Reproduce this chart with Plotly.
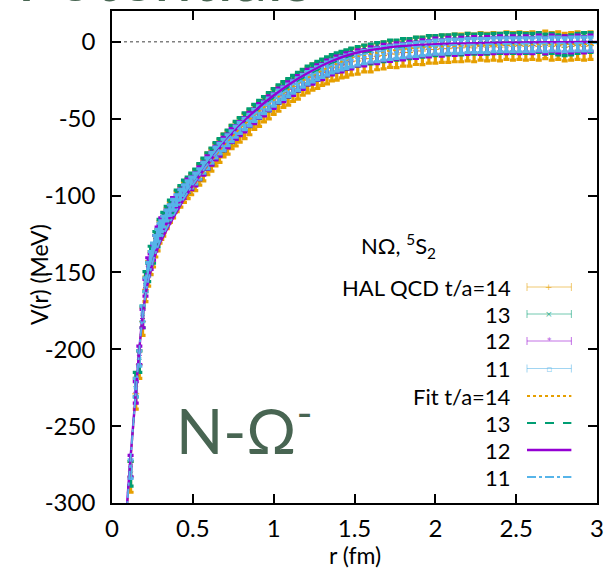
import plotly.graph_objects as go

# ---------------- data ----------------
r_data = [0.115, 0.147, 0.169, 0.189, 0.207, 0.224, 0.239, 0.254, 0.268, 0.282,
          0.294, 0.305, 0.317, 0.338, 0.358, 0.378, 0.400, 0.423, 0.445, 0.468, 0.490,
          0.515, 0.540, 0.565, 0.590, 0.615, 0.640, 0.665, 0.690, 0.715, 0.740, 0.765, 0.790,
          0.82, 0.85, 0.88, 0.91, 0.94, 0.97, 1.00, 1.03, 1.06, 1.09,
          1.12, 1.15, 1.18, 1.21, 1.24, 1.27, 1.30, 1.33, 1.36, 1.39,
          1.42, 1.45, 1.48,
          1.52, 1.56, 1.60, 1.64, 1.68, 1.72, 1.76, 1.80, 1.84, 1.88,
          1.92, 1.96, 2.00, 2.04, 2.08, 2.12, 2.16, 2.20, 2.24, 2.28,
          2.32, 2.36, 2.40, 2.44, 2.48, 2.52, 2.56, 2.60, 2.64, 2.68,
          2.72, 2.76, 2.80, 2.84, 2.88, 2.92, 2.96]

V_t11 = [-278, -225, -206, -177, -158, -148, -141, -135, -130, -126,
         -122, -120, -117, -113, -109.5, -106, -103, -99.5, -96.5, -94, -91.5,
         -89, -86, -82, -79, -75.5, -72, -69.5, -67, -64, -61.5, -58.5, -56,
         -53.5, -51, -48, -45.5, -43, -40.5, -38, -35.5, -33.5, -31.5,
         -29.5, -27.5, -25.5, -23.5, -22, -20.5, -19, -17.5, -16, -15,
         -14, -13, -12,
         -11, -10, -9, -8.5, -7.5, -7, -6.5, -6, -5.5, -5,
         -4.5, -4, -3.5, -3.5, -3, -3, -3, -2.5, -2.5, -2.5,
         -2.5, -2, -2, -2, -2, -2, -2, -2, -1.5, -2,
         -1.5, -1.5, -2, -1.5, -1.5, -1.5, -1.5]
E_t11 = [6, 6, 5, 5, 4.5, 4.5, 4.5, 4, 4, 4,
         4, 3.5, 3.5, 3.5, 3.5, 3.5, 3.5, 3.5, 3.5, 3.5, 3.5,
         3.5, 3.4, 3.5, 3.5, 3.4, 3.5, 3.5, 3.6, 3.5, 3.5, 3.6, 3.6,
         3.7, 3.7, 3.8, 3.8, 3.8, 3.9, 3.9, 4.0, 4.0, 4.0,
         4.0, 4.1, 4.1, 4.1, 4.1, 4.2, 4.2, 4.2, 4.2, 4.2,
         4.3, 4.3, 4.3,
         4.3, 4.3, 4.3, 4.4, 4.4, 4.4, 4.4, 4.4, 4.4, 4.5,
         4.5, 4.5, 4.5, 4.5, 4.5, 4.5, 4.5, 4.5, 4.5, 4.5,
         4.5, 4.5, 4.5, 4.5, 4.5, 4.5, 4.5, 4.5, 4.5, 4.5,
         4.5, 4.5, 4.5, 4.5, 4.5, 4.5, 4.5]

V_t12 = [-276, -228, -204, -180, -160, -146, -143, -137, -131, -125,
         -124, -119, -118, -114, -110.5, -105.5, -104, -100, -97.5, -93.5, -92,
         -89.5, -85.5, -82.5, -78.5, -76, -72.5, -70, -66.5, -64.5, -61, -59, -56.5,
         -54, -50.5, -48.5, -45, -43.5, -40, -38.5, -35, -34, -31,
         -30, -27, -26, -23, -22.5, -20, -19.5, -17, -16.5, -14.5,
         -14.5, -12.5, -12.5,
         -10.5, -10.5, -8.5, -9, -7, -7.5, -6, -6.5, -5, -5.5,
         -4, -4.5, -3, -4, -2.5, -3.5, -2.5, -3, -2, -3,
         -2, -2.5, -1.5, -2.5, -1.5, -2.5, -1.5, -2.5, -1, -2.5,
         -1, -2, -1.5, -2, -1, -2, -1]
E_t12 = [7, 7, 6, 6, 5.5, 5.5, 5, 5, 5, 4.5,
         4.5, 4.5, 4.5, 4.5, 4.2, 4.2, 4.2, 4.2, 4.2, 4.2, 4.2,
         4.2, 4.2, 4.3, 4.3, 4.3, 4.4, 4.4, 4.4, 4.5, 4.5, 4.5, 4.5,
         4.6, 4.6, 4.7, 4.7, 4.7, 4.8, 4.8, 4.8, 4.9, 4.9,
         4.9, 5.0, 5.0, 5.0, 5.0, 5.0, 5.1, 5.1, 5.1, 5.1,
         5.1, 5.2, 5.2,
         5.2, 5.2, 5.2, 5.3, 5.3, 5.3, 5.3, 5.3, 5.3, 5.3,
         5.3, 5.3, 5.3, 5.3, 5.3, 5.3, 5.3, 5.3, 5.3, 5.3,
         5.3, 5.3, 5.3, 5.3, 5.3, 5.3, 5.3, 5.3, 5.3, 5.3,
         5.3, 5.3, 5.3, 5.3, 5.3, 5.3, 5.3]

V_t13 = [-281, -223, -208, -179, -156, -150, -139, -138, -129, -128,
         -121, -121, -116, -112, -108, -107, -101.5, -98.5, -95, -93, -90.5,
         -88, -84.5, -81, -77.5, -74.5, -71, -68.5, -65.5, -63, -60, -57.5, -55,
         -52, -49.5, -46.5, -44, -41.5, -39, -36.5, -34, -32, -30,
         -28, -26, -24, -22, -20.5, -19, -17.5, -16, -14.5, -13.5,
         -12.5, -11.5, -10.5,
         -9.5, -8.5, -8, -7, -6.5, -5.5, -5.5, -4.5, -4.5, -3.5,
         -3.5, -2.5, -2.5, -2, -2, -1.5, -2, -1, -1.5, -1,
         -1.5, -1, -1, -0.5, -1, -0.5, -1, -1, -0.5, -1.5,
         -1, -2, -2.5, -2, -1, -0.5, -0.5]
E_t13 = [8, 8, 7, 7, 6.5, 6, 6, 6, 5.5, 5.5,
         5.5, 5, 5, 5, 5, 5, 5, 5, 5, 5, 5,
         5.2, 5.2, 5.3, 5.3, 5.4, 5.4, 5.5, 5.5, 5.6, 5.6, 5.7, 5.7,
         5.8, 5.8, 5.8, 5.9, 5.9, 5.9, 6.0, 6.0, 6.0, 6.0,
         6.1, 6.1, 6.1, 6.1, 6.2, 6.2, 6.2, 6.2, 6.2, 6.3,
         6.3, 6.3, 6.3,
         6.4, 6.4, 6.4, 6.4, 6.5, 6.5, 6.5, 6.5, 6.5, 6.5,
         6.5, 6.5, 6.5, 6.5, 6.5, 6.5, 6.5, 6.5, 6.5, 6.5,
         6.5, 6.5, 6.5, 6.5, 6.5, 6.5, 6.5, 6.5, 6.5, 6.5,
         6.5, 6.5, 6.5, 6.5, 6.5, 6.5, 6.5]

V_t14 = [-283, -229, -210, -182, -161, -151, -144, -139, -133, -129,
         -124, -122, -120, -115, -111, -108, -104, -101, -98, -95.5, -93,
         -90, -86.5, -83.5, -79.5, -77, -73.5, -71, -67.5, -65.5, -62, -60, -57.5,
         -55, -52.5, -49, -47, -44, -42, -39, -37, -34.5, -33,
         -30.5, -29, -26.5, -25, -23, -22, -20, -19, -17, -16.5,
         -15, -14.5, -13,
         -12.5, -11, -11, -9.5, -9, -8, -8, -7, -7, -6,
         -6, -5, -5, -4.5, -4.5, -4, -4, -3.5, -4, -3,
         -3.5, -3, -3.5, -2.5, -3, -2.5, -3, -2.5, -3, -2,
         -3, -2.5, -3.5, -3, -2.5, -3, -2.5]
E_t14 = [10, 10, 9, 9, 8, 8, 7.5, 7.5, 7, 7,
         7, 6.5, 6.5, 6.5, 6.5, 6.5, 6.5, 6.5, 6.5, 6.5, 6.5,
         6.8, 6.8, 7.0, 7.0, 7.2, 7.2, 7.4, 7.4, 7.6, 7.6, 7.8, 7.8,
         8.0, 8.0, 8.0, 8.1, 8.1, 8.1, 8.2, 8.2, 8.2, 8.2,
         8.3, 8.3, 8.3, 8.3, 8.4, 8.4, 8.4, 8.4, 8.4, 8.5,
         8.5, 8.5, 8.5,
         8.6, 8.6, 8.6, 8.7, 8.7, 8.7, 8.8, 8.8, 8.8, 8.8,
         8.9, 8.9, 8.9, 8.9, 8.9, 9.0, 9.0, 9.0, 9.0, 9.0,
         9.0, 9.0, 9.0, 9.0, 9.0, 9.0, 9.0, 9.0, 9.0, 9.0,
         9.0, 9.0, 9.0, 9.0, 9.0, 9.0, 9.0]

# fit curves
r_fit = [0.085, 0.095, 0.105, 0.115, 0.125, 0.135, 0.145, 0.155, 0.165, 0.175,
         0.19, 0.21, 0.23, 0.26, 0.30, 0.35, 0.40, 0.45, 0.50, 0.60,
         0.70, 0.80, 0.90, 1.00, 1.10, 1.20, 1.35, 1.50, 1.70, 1.90,
         2.10, 2.40, 2.70, 3.00]
fit_t12 = [-318, -298, -284, -270, -257, -244, -231, -218, -205, -193,
           -178, -163, -153, -141, -130, -120, -110.5, -101.5, -93.5, -78.5,
           -65, -53.5, -43.5, -35, -27.5, -21, -13, -7.5, -3.8, -2.0,
           -1.2, -0.6, -0.3, -0.2]
fit_t11 = [-320, -300, -285, -271, -257.5, -244.5, -231, -218, -205.5, -193,
           -178, -163, -152.5, -140.5, -129, -119, -109.5, -101, -93, -78.5,
           -65.5, -54.5, -45.5, -37.5, -30, -23.5, -15.5, -9.5, -5.5, -3.2,
           -2.2, -1.5, -1.1, -0.9]
fit_t13 = [-317, -297, -283, -269.5, -256.5, -243.5, -230.5, -217.5, -204.5, -192.5,
           -177.5, -162.5, -152.5, -140.5, -129.5, -119.5, -110, -101, -93, -78,
           -65, -54, -44.5, -36.5, -29, -22.5, -14.5, -8.5, -4.5, -2.5,
           -1.5, -0.9, -0.5, -0.3]
fit_t14 = [-322, -301, -286, -272, -258.5, -245.5, -232, -219, -206, -194,
           -179, -164, -154, -142, -131, -121, -111.5, -102.5, -94.5, -79.5,
           -66.5, -55.5, -46, -38, -30.5, -24, -16, -10, -6, -3.8,
           -2.8, -2, -1.6, -1.4]

zero_r = [0, 3]
zero_v = [0, 0]

x_ticks = [0, 0.5, 1, 1.5, 2, 2.5, 3]
x_labels = ["0", "0.5", "1", "1.5", "2", "2.5", "3"]
y_ticks = [-300, -250, -200, -150, -100, -50, 0]
y_labels = ["-300", "-250", "-200", "-150", "-100", "-50", "0"]

data_labels = ["HAL QCD t/a=14", "13", "12", "11"]
fit_labels = ["Fit t/a=14", "13", "12", "11"]

# ---------------- styles ----------------
C_ORANGE = "#e69f00"
C_GREEN = "#009e73"
C_PURPLE = "#9400d3"
C_BLUE = "#56b4e9"
TXT_GREEN = "#486552"
FONT = "Lato"

fig = go.Figure()

fig.add_trace(go.Scatter(x=zero_r, y=zero_v, mode="lines",
                         line=dict(color="#808080", width=1.3, dash="dot"),
                         hoverinfo="skip"))

series = [
    (V_t14, E_t14, C_ORANGE, "cross-thin", 5),
    (V_t13, E_t13, C_GREEN, "x-thin", 4),
    (V_t12, E_t12, C_PURPLE, "asterisk", 4),
    (V_t11, E_t11, C_BLUE, "square-open", 3),
]
for v, e, c, sym, sz in series:
    fig.add_trace(go.Scatter(
        x=r_data, y=v, mode="markers",
        marker=dict(symbol=sym, size=sz, color=c, line=dict(color=c, width=1)),
        error_y=dict(type="data", array=e, color=c, thickness=3.2, width=3),
        hoverinfo="skip"))

fits = [
    (fit_t14, C_ORANGE, "dot", 2),
    (fit_t13, C_GREEN, "dash", 1.8),
    (fit_t12, C_PURPLE, "solid", 2.4),
    (fit_t11, C_BLUE, "dashdot", 1.8),
]
for v, c, d, w in fits:
    fig.add_trace(go.Scatter(x=r_fit, y=v, mode="lines",
                             line=dict(color=c, dash=d, width=w, shape="spline", smoothing=0.6),
                             hoverinfo="skip"))

# ---------------- layout helpers ----------------
L, R, T, B = 112, 8, 11, 69
W, H = 612, 572
PW, PH = W - L - R, H - T - B


def px(xp):
    return (xp - L) / PW


def py(yp):
    return (H - B - yp) / PH


annotations = []
shapes = []

# legend title
annotations.append(dict(x=px(403), y=py(246), xref="paper", yref="paper",
                        text="NΩ, <sup>5</sup>S<sub>2</sub>", showarrow=False,
                        font=dict(family=FONT, size=22, color="black"),
                        xanchor="center", yanchor="middle"))

rows = [287, 314, 341, 368.5, 396, 423, 450, 477]
labels = data_labels + fit_labels
for yrow, lab in zip(rows, labels):
    annotations.append(dict(x=px(519), y=py(yrow), xref="paper", yref="paper",
                            text=lab, showarrow=False,
                            font=dict(family=FONT, size=22, color="black"),
                            xanchor="right", yanchor="middle"))

sx0, sx1 = 533, 578
err_cols = [C_ORANGE, C_GREEN, C_PURPLE, C_BLUE]
err_marks = ["+", "×", "*", "▫"]
for i, c in enumerate(err_cols):
    yy = rows[i]
    shapes.append(dict(type="line", xref="paper", yref="paper",
                       x0=px(sx0), x1=px(sx1), y0=py(yy), y1=py(yy),
                       line=dict(color=c, width=1), opacity=0.55))
    for xe in (sx0, sx1):
        shapes.append(dict(type="line", xref="paper", yref="paper",
                           x0=px(xe), x1=px(xe), y0=py(yy - 4), y1=py(yy + 4),
                           line=dict(color=c, width=1), opacity=0.55))
    annotations.append(dict(x=px((sx0 + sx1) / 2), y=py(yy), xref="paper", yref="paper",
                            text=err_marks[i], showarrow=False,
                            font=dict(family="DejaVu Sans", size=9, color=c),
                            xanchor="center", yanchor="middle", opacity=0.7))

for i, (v, c, d, w) in enumerate(fits):
    yy = rows[4 + i]
    shapes.append(dict(type="line", xref="paper", yref="paper",
                       x0=px(sx0), x1=px(sx1), y0=py(yy), y1=py(yy),
                       line=dict(color=c, width=w, dash=d)))

# big overlay text
annotations.append(dict(x=px(246), y=py(426), xref="paper", yref="paper",
                        text="N-Ω<sup>-</sup>", showarrow=False,
                        font=dict(family=FONT, size=62, color=TXT_GREEN),
                        xanchor="center", yanchor="middle"))
annotations.append(dict(x=px(14), y=py(-26), xref="paper", yref="paper",
                        text="Potentials", showarrow=False,
                        font=dict(family=FONT, size=68, color=TXT_GREEN),
                        xanchor="left", yanchor="middle"))

# axis titles
annotations.append(dict(x=px(38), y=py(275), xref="paper", yref="paper",
                        text="V(r) (MeV)", showarrow=False, textangle=-90,
                        font=dict(family=FONT, size=23, color="black"),
                        xanchor="center", yanchor="middle"))
annotations.append(dict(x=px(358), y=py(555), xref="paper", yref="paper",
                        text="r (fm)", showarrow=False,
                        font=dict(family=FONT, size=23, color="black"),
                        xanchor="center", yanchor="middle"))

axis_common = dict(showline=True, linecolor="black", linewidth=1.6, mirror="ticks",
                   ticks="inside", ticklen=9, tickwidth=1.5, tickcolor="black",
                   showgrid=False, zeroline=False,
                   tickfont=dict(family=FONT, size=24, color="black"))

fig.update_layout(
    width=W, height=H,
    margin=dict(l=L, r=R, t=T, b=B),
    paper_bgcolor="white", plot_bgcolor="white",
    showlegend=False,
    xaxis=dict(range=[0, 3], tickmode="array", tickvals=x_ticks, ticktext=x_labels,
               ticklabelstandoff=3, **axis_common),
    yaxis=dict(range=[-300, 20], tickmode="array", tickvals=y_ticks, ticktext=y_labels,
               ticklabelstandoff=10, **axis_common),
    annotations=annotations,
    shapes=shapes,
)

fig.write_html("out.html")
